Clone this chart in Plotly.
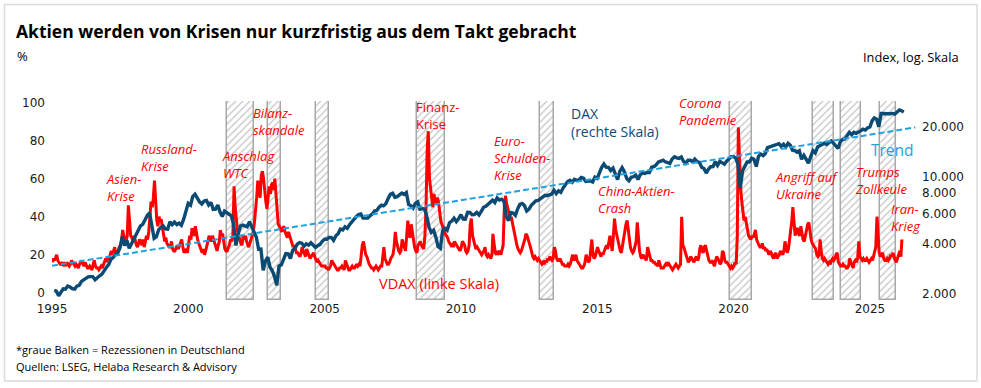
import math
import pandas as pd
import plotly.graph_objects as go

# ---------------- data ----------------
# DAX month-end levels, Jan 1995 .. Mar 2026 (right axis, log)
dax = [
    2100, 2080, 1950, 2060, 2150, 2140, 2230, 2200, 2150, 2140, 2230, 2254,
    2380, 2430, 2490, 2530, 2540, 2540, 2430, 2510, 2570, 2630, 2780, 2889,
    3010, 3220, 3300, 3440, 3520, 3780, 4400, 3900, 4170, 3750, 3980, 4250,
    4440, 4710, 5100, 5210, 5590, 5900, 6100, 5000, 4300, 4400, 4850, 5000,
    5100, 4900, 4880, 5400, 5200, 5380, 5200, 5300, 5150, 5600, 6300, 6958,
    6800, 7650, 7900, 7400, 7100, 6900, 7200, 7250, 6800, 7050, 6400, 6430,
    6800, 6200, 5800, 6260, 6120, 6060, 5860, 5190, 3900, 4560, 5100, 5160,
    5100, 5040, 5400, 5040, 4820, 4380, 3700, 3710, 2770, 3150, 3320, 2890,
    2750, 2550, 2250, 2940, 2980, 3220, 3490, 3480, 3260, 3650, 3750, 3965,
    4060, 4020, 3860, 3990, 3920, 4050, 3900, 3790, 3890, 3960, 4130, 4256,
    4250, 4350, 4350, 4180, 4460, 4590, 4890, 4830, 5040, 4930, 5190, 5408,
    5670, 5800, 5970, 6010, 5690, 5680, 5680, 5860, 6000, 6270, 6310, 6597,
    6790, 6720, 6920, 7410, 7880, 8010, 7580, 7640, 7860, 8020, 7870, 8067,
    6850, 6750, 6530, 6950, 7100, 6420, 6480, 6420, 5830, 4990, 4670, 4810,
    4340, 3840, 3750, 4770, 4940, 4810, 5330, 5460, 5680, 5410, 5630, 5957,
    5610, 5600, 6150, 6140, 5960, 5970, 6150, 5930, 6230, 6600, 6690, 6914,
    7080, 7270, 7040, 7510, 7290, 7380, 7160, 5780, 5500, 6140, 6090, 5898,
    6460, 6860, 6950, 6760, 6260, 6420, 6770, 6970, 7220, 7260, 7410, 7612,
    7780, 7740, 7800, 7910, 8350, 7960, 8280, 8100, 8590, 9030, 9400, 9552,
    9310, 9690, 9560, 9600, 9940, 9830, 9410, 9470, 9470, 9330, 9980, 9806,
    10690, 11400, 11970, 11450, 11410, 10940, 11310, 10260, 9660, 10850, 11380, 10743,
    9800, 9500, 9970, 10040, 10260, 9680, 10340, 10590, 10510, 10670, 10640, 11481,
    11540, 11830, 12310, 12440, 12620, 12330, 12120, 12060, 12830, 13230, 13020, 12918,
    13190, 12440, 12100, 12610, 12600, 12310, 12800, 12360, 12250, 11450, 11260, 10559,
    11170, 11520, 11530, 12340, 11730, 12400, 12190, 11940, 12430, 12870, 13240, 13249,
    12980, 11890, 8600, 10860, 11590, 12310, 12310, 12950, 12760, 11560, 13290, 13719,
    13430, 13790, 15010, 15140, 15420, 15530, 15540, 15840, 15260, 15690, 15100, 15885,
    15470, 14460, 14410, 14100, 14390, 12780, 13480, 12830, 12110, 13250, 14400, 13924,
    15130, 15370, 15630, 15920, 15660, 16150, 16450, 15950, 15390, 14810, 16220, 16752,
    16900, 17680, 18490, 17930, 18500, 18240, 18510, 18910, 19320, 19080, 19630, 19909,
    21730, 22550, 22160, 20000, 23990, 23910, 24070, 23900, 23880, 24000, 23800, 24490,
    25200, 24900, 24500,
]

# VDAX, two readings per month (early / late), Jan 1995 .. early Mar 2026 (left axis, %)
vdax = [
    16, 18, 17, 19, 20, 17, 16, 15, 15, 16, 14, 15, 14, 16, 15, 14, 15, 17, 16, 15, 14, 15, 14, 13,
    15, 16, 17, 15, 14, 16, 14, 13, 13, 14, 13, 12, 15, 17, 14, 13, 13, 12, 13, 14, 13, 15, 16, 18,
    17, 18, 18, 20, 22, 21, 22, 24, 20, 21, 22, 24, 25, 27, 33, 30, 28, 27, 30, 46, 38, 30, 29, 27,
    30, 27, 25, 24, 26, 28, 27, 25, 28, 24, 27, 30, 28, 32, 40, 48, 45, 50, 59, 45, 38, 35, 40, 38,
    38, 34, 30, 27, 29, 26, 25, 24, 24, 27, 23, 22, 22, 24, 25, 23, 25, 27, 28, 24, 21, 22, 23, 21,
    26, 30, 28, 34, 32, 30, 35, 30, 28, 26, 24, 22, 21, 23, 20, 22, 24, 27, 30, 28, 27, 30, 28, 27,
    24, 22, 25, 27, 33, 30, 31, 26, 23, 22, 22, 24, 25, 28, 27, 30, 56, 45, 38, 33, 30, 27, 26, 25,
    30, 28, 30, 27, 25, 24, 26, 28, 30, 32, 37, 42, 50, 59, 55, 50, 62, 64, 60, 52, 48, 44, 50, 56,
    52, 57, 58, 54, 60, 50, 40, 36, 35, 33, 32, 34, 35, 32, 30, 29, 32, 30, 28, 26, 24, 25, 22, 21,
    21, 20, 19, 21, 24, 22, 20, 19, 23, 21, 19, 18, 19, 20, 21, 19, 17, 16, 17, 16, 15, 14, 14, 14,
    14, 13, 13, 12, 13, 14, 17, 16, 15, 14, 13, 12, 12, 13, 13, 14, 13, 12, 17, 15, 13, 12, 12, 13,
    14, 13, 13, 14, 15, 14, 15, 14, 20, 25, 27, 22, 20, 19, 16, 15, 14, 13, 13, 12, 13, 14, 13, 12,
    13, 14, 14, 20, 24, 18, 16, 15, 15, 16, 18, 19, 20, 24, 32, 27, 24, 22, 21, 22, 28, 26, 24, 22,
    30, 38, 30, 29, 36, 32, 26, 24, 22, 21, 25, 26, 27, 25, 24, 23, 30, 45, 75, 85, 60, 55, 50, 45,
    52, 48, 47, 50, 48, 42, 38, 36, 34, 33, 31, 30, 29, 27, 26, 25, 26, 24, 27, 26, 25, 24, 23, 22,
    24, 27, 26, 25, 22, 21, 22, 25, 36, 39, 30, 27, 25, 23, 24, 23, 22, 21, 20, 21, 22, 24, 20, 19,
    20, 19, 18, 20, 31, 26, 21, 20, 22, 21, 22, 20, 22, 25, 45, 51, 47, 45, 42, 38, 40, 37, 34, 30,
    28, 25, 23, 22, 21, 22, 25, 26, 28, 31, 30, 27, 26, 24, 21, 19, 18, 19, 18, 17, 18, 17, 16, 15,
    16, 15, 17, 16, 18, 17, 19, 18, 17, 18, 24, 22, 18, 17, 17, 18, 16, 15, 15, 14, 14, 14, 15, 14,
    15, 17, 20, 17, 19, 20, 17, 16, 15, 14, 13, 13, 14, 16, 20, 18, 16, 17, 24, 28, 20, 18, 19, 22,
    24, 22, 20, 19, 21, 20, 22, 24, 25, 23, 28, 30, 26, 22, 30, 39, 33, 30, 27, 24, 22, 21, 25, 27,
    31, 36, 38, 32, 26, 24, 22, 21, 22, 24, 27, 37, 26, 22, 19, 18, 20, 19, 18, 17, 24, 21, 18, 17,
    17, 16, 16, 15, 15, 14, 17, 14, 13, 13, 13, 14, 15, 14, 16, 15, 14, 13, 12, 13, 14, 15, 14, 13,
    14, 15, 40, 25, 24, 22, 20, 17, 16, 17, 19, 18, 17, 16, 18, 19, 17, 18, 23, 25, 22, 21, 24, 25,
    22, 19, 17, 16, 16, 17, 15, 14, 17, 19, 18, 16, 15, 16, 22, 21, 17, 16, 16, 15, 14, 13, 14, 13,
    14, 16, 15, 30, 87, 65, 55, 48, 42, 38, 40, 36, 33, 30, 29, 28, 30, 29, 31, 33, 28, 26, 25, 24,
    24, 26, 23, 24, 22, 23, 21, 20, 22, 21, 19, 18, 20, 21, 18, 19, 20, 22, 21, 20, 22, 27, 24, 21,
    23, 28, 30, 38, 45, 35, 30, 33, 34, 31, 30, 35, 32, 28, 27, 30, 33, 36, 37, 32, 28, 26, 25, 24,
    23, 20, 19, 20, 28, 22, 18, 17, 18, 17, 16, 15, 16, 15, 17, 18, 17, 18, 20, 21, 16, 15, 14, 14,
    15, 14, 14, 13, 13, 14, 18, 16, 14, 13, 16, 17, 16, 18, 27, 19, 18, 17, 18, 17, 17, 18, 17, 16,
    17, 18, 17, 19, 22, 24, 40, 28, 21, 19, 20, 21, 18, 17, 17, 18, 17, 18, 20, 19, 21, 18, 17, 16,
    18, 20, 22, 19, 28,
]

# Trend line (straight on the log scale): start / end
trend_dates = ["1995-01-01", "2026-09-01"]
trend_vals = [2950, 19800]

# Recessions in Germany (grey hatched bars)
rec_start = ["2001-06-05", "2002-12-01", "2004-09-05", "2008-05-25", "2012-12-01",
             "2019-11-20", "2022-11-28", "2023-12-05", "2025-05-22"]
rec_end = ["2002-06-05", "2003-05-30", "2005-03-01", "2009-05-30", "2013-06-05",
           "2020-09-10", "2023-09-05", "2024-09-05", "2025-12-10"]

year_ticks = [1995, 2000, 2005, 2010, 2015, 2020, 2025]
left_ticks = [0, 20, 40, 60, 80, 100]
right_ticks = [2000, 4000, 6000, 8000, 10000, 20000]
right_ticktext = ["2.000", "4.000", "6.000", "8.000", "10.000", "20.000"]

# ---------------- build ----------------
dax_dates = pd.date_range("1995-01-31", periods=len(dax), freq="ME")
months = pd.date_range("1995-01-01", periods=(len(vdax) + 1) // 2, freq="MS")
vdax_dates = []
for m in months:
    vdax_dates.append(m + pd.Timedelta(days=4))
    vdax_dates.append(m + pd.Timedelta(days=19))
vdax_dates = vdax_dates[:len(vdax)]

rs = pd.to_datetime(rec_start)
re_ = pd.to_datetime(rec_end)
rec_mid = rs + (re_ - rs) / 2
rec_w = [(b - a).total_seconds() * 1000 for a, b in zip(rs, re_)]

Y_LO, Y_HI = -3.84, 100.9
R_LO, R_HI = 1841, 28478

# plot-area geometry (pixels)
W, H = 981, 388
L, R, T, B = 52, 65, 101, 88
PW, PH = W - L - R, H - T - B


def px(x):
    return (x - L) / PW


def py(y):
    return (H - B - y) / PH


RED = "#ff0000"
BLUE = "#0b4a73"
LBLUE = "#1fa2df"
TXT = "Open Sans"
TICK = "DejaVu Sans"

fig = go.Figure()

fig.add_trace(go.Bar(
    x=rec_mid, y=[Y_HI - Y_LO] * len(rec_mid), base=Y_LO, width=rec_w,
    marker=dict(color="white", line=dict(color="#a8a8a8", width=1.5),
                pattern=dict(shape="/", fgcolor="#888888", bgcolor="white", size=5, solidity=0.25)),
    hoverinfo="skip", showlegend=False, yaxis="y"))

fig.add_trace(go.Scatter(x=vdax_dates, y=vdax, mode="lines",
                         line=dict(color=RED, width=3), showlegend=False, yaxis="y"))
fig.add_trace(go.Scatter(x=dax_dates, y=dax, mode="lines",
                         line=dict(color=BLUE, width=3.4), showlegend=False, yaxis="y2"))
fig.add_trace(go.Scatter(x=trend_dates, y=trend_vals, mode="lines",
                         line=dict(color=LBLUE, width=2, dash="6px,3px"), showlegend=False, yaxis="y2"))

fig.update_layout(
    width=W, height=H, margin=dict(l=L, r=R, t=T, b=B),
    paper_bgcolor="white", plot_bgcolor="white",
    showlegend=False, bargap=0,
    xaxis=dict(type="date", range=["1995-01-01", "2026-09-10"],
               tickmode="array", tickvals=[f"{y}-01-01" for y in year_ticks],
               ticktext=[str(y) for y in year_ticks],
               showgrid=False, zeroline=False, showline=False, ticks="",
               tickfont=dict(family=TICK, size=12, color="#1a1a1a")),
    yaxis=dict(range=[Y_LO, Y_HI], tickmode="array", tickvals=left_ticks,
               showgrid=False, zeroline=False, showline=False, ticks="",
               ticklabelstandoff=6,
               tickfont=dict(family=TICK, size=12, color="#1a1a1a")),
    yaxis2=dict(type="log", overlaying="y", side="right",
                range=[math.log10(R_LO), math.log10(R_HI)],
                tickmode="array", tickvals=right_ticks, ticktext=right_ticktext,
                showgrid=False, zeroline=False, showline=False, ticks="",
                ticklabelstandoff=5,
                tickfont=dict(family=TICK, size=12, color="#1a1a1a")),
)

# outer frame
fig.add_shape(type="rect", xref="paper", yref="paper",
              x0=px(4.5), x1=px(977), y0=py(381), y1=py(4.5),
              line=dict(color="#dcdcdc", width=1.5), fillcolor="rgba(0,0,0,0)", layer="below")

anns = []


def txt(text, x, y, size, color="#000000", anchor="left", italic=False, bold=False, family=TXT):
    t = text
    if bold:
        t = f"<b>{t}</b>"
    if italic:
        t = f"<i>{t}</i>"
    anns.append(dict(text=t, x=px(x), y=py(y), xref="paper", yref="paper",
                     xanchor=anchor, yanchor="middle", showarrow=False, align=anchor,
                     font=dict(family=family, size=size, color=color)))


txt("Aktien werden von Krisen nur kurzfristig aus dem Takt gebracht", 14, 31, 17.5, "#000000", bold=True)
txt("%", 15, 56, 13)
txt("Index, log. Skala", 961, 57, 12.8, anchor="right")
txt("*graue Balken = Rezessionen in Deutschland", 14, 349, 11)
txt("Quellen: LSEG, Helaba Research &amp; Advisory", 14, 366, 11)

FS = 13
txt("Asien-<br>Krise", 104, 187.7, FS, RED, italic=True)
txt("Russland-<br>Krise", 139, 157.7, FS, RED, italic=True)
txt("Anschlag<br>WTC", 219.5, 164.2, FS, RED, italic=True)
txt("Bilanz-<br>skandale", 250.5, 121.7, FS, RED, italic=True)
txt("Finanz-<br>Krise", 414, 115.8, FS, RED)
txt("Euro-<br>Schulden-<br>Krise", 492, 158, FS, RED, italic=True)
txt("China-Aktien-<br>Crash", 595.5, 199.2, FS, RED, italic=True)
txt("Corona<br>Pandemie", 677, 111.8, FS, RED, italic=True)
txt("Angriff auf<br>Ukraine", 773, 185.5, FS, RED, italic=True)
txt("Trumps<br>Zollkeule", 852.5, 180.2, FS, RED, italic=True)
txt("Iran-<br>Krieg", 889, 217.5, FS, RED, italic=True)
txt("DAX<br>(rechte Skala)", 569, 122.5, 14, BLUE)
txt("Trend", 869, 150, 15.5, LBLUE)
txt("VDAX (linke Skala)", 377, 283.7, 14.5, RED)

fig.update_layout(annotations=anns)
fig.write_html("out.html", config={"displayModeBar": False},
               post_script="document.body.style.margin='0';")
